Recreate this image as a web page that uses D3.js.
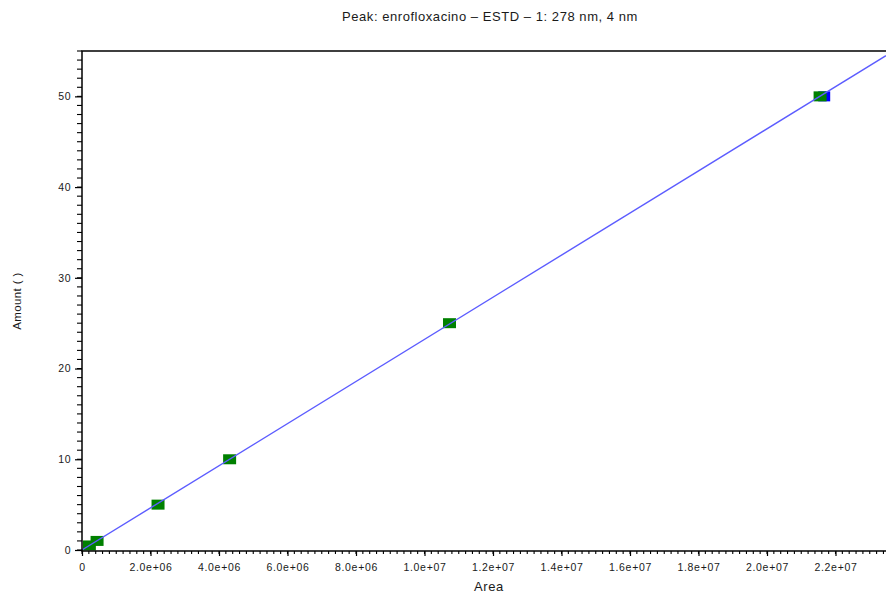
<!DOCTYPE html>
<html>
<head>
<meta charset="utf-8">
<script src="https://cdn.jsdelivr.net/npm/d3@7"></script>
<style>
  body { margin: 0; background: #fff; }
  svg text { font-family: "Liberation Sans", Arial, sans-serif; fill: #1a1a1a; }
</style>
</head>
<body>
<div id="chart"></div>
<script>
// calibration points (area vs amount)
var areas   = [2.15e5, 4.4e5, 2.22e6, 4.31e6, 1.073e7, 2.155e7];
var amounts = [0.5, 1, 5, 10, 25, 50];
// replicate at the top level that shows behind the green marker
var repAreas   = [2.167e7];
var repAmounts = [50];

var xTicks = [0, 2e6, 4e6, 6e6, 8e6, 1e7, 1.2e7, 1.4e7, 1.6e7, 1.8e7, 2e7, 2.2e7];
var yTicks = [0, 10, 20, 30, 40, 50];

var title = "Peak: enrofloxacino \u2013 ESTD \u2013 1: 278 nm, 4 nm";

var W = 886, H = 593;
var plotLeft = 82, plotTop = 51, plotBottom = 550, plotRight = 904;

var svg = d3.select("#chart").append("svg")
    .attr("width", W)
    .attr("height", H);

var x = d3.scaleLinear().domain([0, 2.4e7]).range([plotLeft, plotRight]);
var y = d3.scaleLinear().domain([0, 55]).range([plotBottom, plotTop]);

// fit line through origin from the points
var sxy = d3.sum(areas, function(a, i) { return a * amounts[i]; });
var sxx = d3.sum(areas, function(a) { return a * a; });
var slope = sxy / sxx;

svg.append("defs").append("clipPath").attr("id", "clip")
  .append("rect").attr("x", plotLeft).attr("y", plotTop)
  .attr("width", W - plotLeft).attr("height", plotBottom - plotTop + 2);

var plot = svg.append("g").attr("clip-path", "url(#clip)");

// markers
plot.selectAll("rect.rep")
  .data(repAreas)
  .enter().append("rect")
    .attr("class", "rep")
    .attr("x", function(d) { return x(d) - 6; })
    .attr("y", function(d, i) { return y(repAmounts[i]) - 5; })
    .attr("width", 12).attr("height", 10)
    .attr("fill", "#0000ff");

plot.selectAll("rect.pt")
  .data(areas)
  .enter().append("rect")
    .attr("class", "pt")
    .attr("x", function(d) { return x(d) - 6.5; })
    .attr("y", function(d, i) { return y(amounts[i]) - 5; })
    .attr("width", 13).attr("height", 10)
    .attr("fill", "#008000");

// calibration line
var xEnd = x.invert(W);
plot.append("line")
  .attr("x1", x(0)).attr("y1", y(0))
  .attr("x2", x(xEnd)).attr("y2", y(slope * xEnd))
  .attr("stroke", "#5c5cff")
  .attr("stroke-width", 1.4);

// x axis
var xAxis = d3.axisBottom(x)
  .tickValues(xTicks)
  .tickSize(5)
  .tickFormat(function(d) {
    if (d === 0) return "0";
    return d.toExponential(1).replace("e+", "e+0");
  });
var gx = svg.append("g").attr("transform", "translate(0," + (plotBottom + 1) + ")").call(xAxis);
gx.select(".domain").remove();
gx.selectAll(".tick line").attr("stroke", "#000").attr("stroke-width", 1.2);
gx.selectAll("text")
  .attr("font-size", 10.5)
  .attr("letter-spacing", "0.7px")
  .attr("dy", "1.1em")
  .attr("fill", "#1a1a1a");

var xMinor = d3.range(0, 2.4e7, 2e5);
svg.append("g").selectAll("line")
  .data(xMinor)
  .enter().append("line")
    .attr("x1", function(d) { return x(d); })
    .attr("x2", function(d) { return x(d); })
    .attr("y1", plotBottom + 1).attr("y2", plotBottom + 4)
    .attr("stroke", "#000").attr("stroke-width", 1.1);

// y axis
var yAxis = d3.axisLeft(y)
  .tickValues(yTicks)
  .tickSize(7)
  .tickPadding(4);
var gy = svg.append("g").attr("transform", "translate(" + plotLeft + ",0)").call(yAxis);
gy.select(".domain").remove();
gy.selectAll(".tick line").attr("stroke", "#000").attr("stroke-width", 1.2);
gy.selectAll("text")
  .attr("font-size", 10.5)
  .attr("letter-spacing", "0.5px")
  .attr("fill", "#1a1a1a");

var yMinor = d3.range(0, 56, 1);
svg.append("g").selectAll("line")
  .data(yMinor)
  .enter().append("line")
    .attr("x1", plotLeft - 5).attr("x2", plotLeft)
    .attr("y1", function(d) { return y(d); })
    .attr("y2", function(d) { return y(d); })
    .attr("stroke", "#000").attr("stroke-width", 1.1);

// frame (left, bottom, top)
svg.append("path")
  .attr("d", "M" + W + "," + plotTop + "H" + plotLeft + "V" + (plotBottom + 1) + "H" + W)
  .attr("fill", "none")
  .attr("stroke", "#000")
  .attr("stroke-width", 1.5);

// labels
svg.append("text")
  .attr("x", 490).attr("y", 21)
  .attr("text-anchor", "middle")
  .attr("font-size", 13)
  .attr("letter-spacing", "0.55px")
  .text(title);

svg.append("text")
  .attr("x", 489).attr("y", 591)
  .attr("text-anchor", "middle")
  .attr("font-size", 13)
  .attr("letter-spacing", "0.6px")
  .text("Area");

svg.append("text")
  .attr("transform", "translate(21,301) rotate(-90)")
  .attr("text-anchor", "middle")
  .attr("font-size", 11.5)
  .attr("letter-spacing", "0.4px")
  .text("Amount ( )");
</script>
</body>
</html>
